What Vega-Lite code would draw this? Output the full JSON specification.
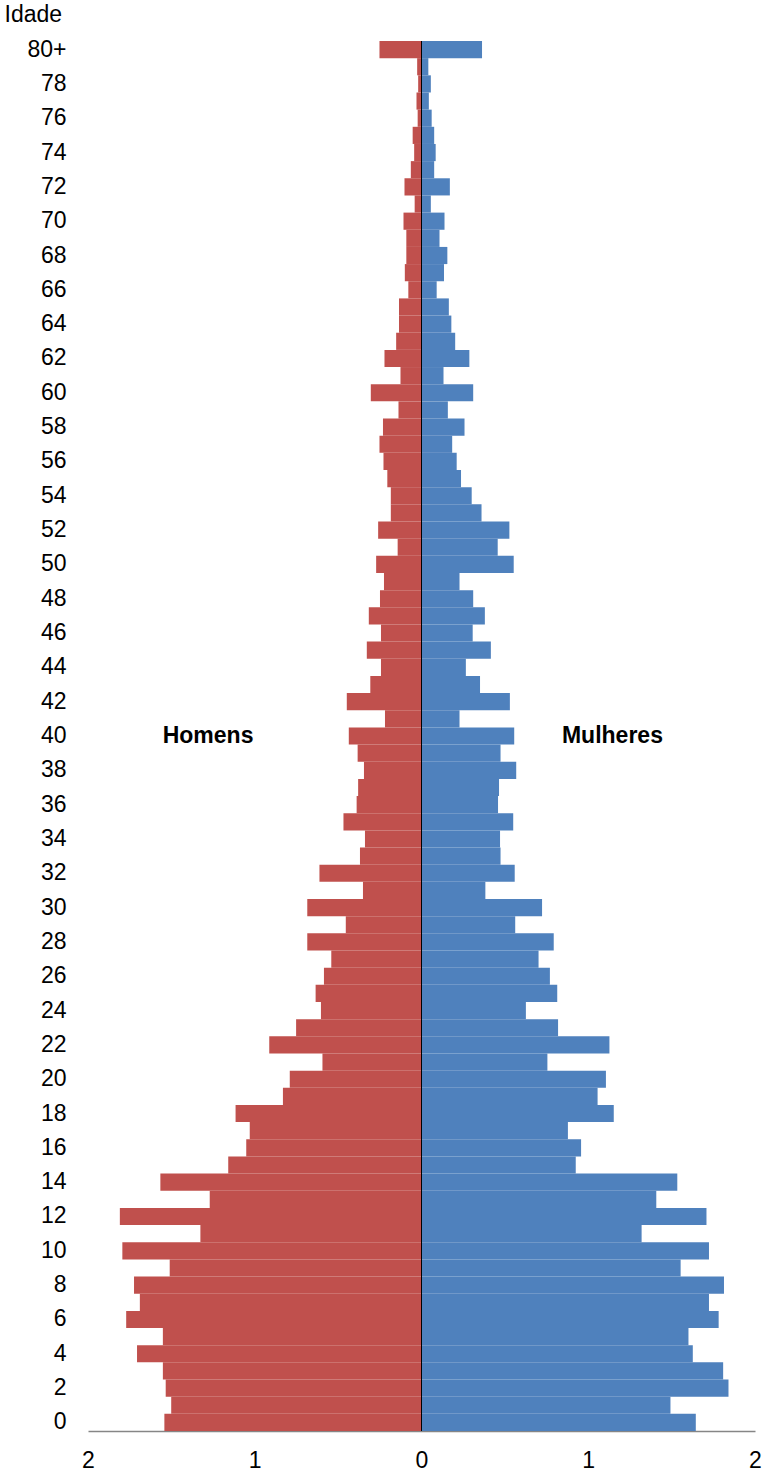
{
  "$schema": "https://vega.github.io/schema/vega-lite/v6.json",
  "width": 667,
  "height": 1390,
  "autosize": {"type": "none"},
  "padding": {"left": 88, "top": 41, "right": 9, "bottom": 45},
  "background": "white",
  "config": {
    "view": {"stroke": null},
    "font": "Liberation Sans",
    "axis": {"labelFont": "Liberation Sans", "titleFont": "Liberation Sans"}
  },
  "data": {
    "values": [
      {"idade": 0, "homens": -1.542, "mulheres": 1.645},
      {"idade": 1, "homens": -1.501, "mulheres": 1.493},
      {"idade": 2, "homens": -1.534, "mulheres": 1.841},
      {"idade": 3, "homens": -1.551, "mulheres": 1.809},
      {"idade": 4, "homens": -1.706, "mulheres": 1.627},
      {"idade": 5, "homens": -1.551, "mulheres": 1.601},
      {"idade": 6, "homens": -1.771, "mulheres": 1.782},
      {"idade": 7, "homens": -1.689, "mulheres": 1.724},
      {"idade": 8, "homens": -1.724, "mulheres": 1.814},
      {"idade": 9, "homens": -1.51, "mulheres": 1.554},
      {"idade": 10, "homens": -1.794, "mulheres": 1.724},
      {"idade": 11, "homens": -1.326, "mulheres": 1.32},
      {"idade": 12, "homens": -1.809, "mulheres": 1.709},
      {"idade": 13, "homens": -1.27, "mulheres": 1.408},
      {"idade": 14, "homens": -1.566, "mulheres": 1.534},
      {"idade": 15, "homens": -1.159, "mulheres": 0.925},
      {"idade": 16, "homens": -1.051, "mulheres": 0.957},
      {"idade": 17, "homens": -1.03, "mulheres": 0.878},
      {"idade": 18, "homens": -1.115, "mulheres": 1.153},
      {"idade": 19, "homens": -0.831, "mulheres": 1.056},
      {"idade": 20, "homens": -0.79, "mulheres": 1.106},
      {"idade": 21, "homens": -0.594, "mulheres": 0.755},
      {"idade": 22, "homens": -0.913, "mulheres": 1.127},
      {"idade": 23, "homens": -0.752, "mulheres": 0.819},
      {"idade": 24, "homens": -0.603, "mulheres": 0.626},
      {"idade": 25, "homens": -0.635, "mulheres": 0.814},
      {"idade": 26, "homens": -0.585, "mulheres": 0.77},
      {"idade": 27, "homens": -0.541, "mulheres": 0.702},
      {"idade": 28, "homens": -0.685, "mulheres": 0.793},
      {"idade": 29, "homens": -0.454, "mulheres": 0.562},
      {"idade": 30, "homens": -0.685, "mulheres": 0.723},
      {"idade": 31, "homens": -0.351, "mulheres": 0.383},
      {"idade": 32, "homens": -0.612, "mulheres": 0.559},
      {"idade": 33, "homens": -0.369, "mulheres": 0.474},
      {"idade": 34, "homens": -0.339, "mulheres": 0.471},
      {"idade": 35, "homens": -0.468, "mulheres": 0.55},
      {"idade": 36, "homens": -0.389, "mulheres": 0.459},
      {"idade": 37, "homens": -0.38, "mulheres": 0.465},
      {"idade": 38, "homens": -0.345, "mulheres": 0.568},
      {"idade": 39, "homens": -0.383, "mulheres": 0.474},
      {"idade": 40, "homens": -0.436, "mulheres": 0.556},
      {"idade": 41, "homens": -0.219, "mulheres": 0.228},
      {"idade": 42, "homens": -0.448, "mulheres": 0.53},
      {"idade": 43, "homens": -0.307, "mulheres": 0.351},
      {"idade": 44, "homens": -0.243, "mulheres": 0.266},
      {"idade": 45, "homens": -0.328, "mulheres": 0.416},
      {"idade": 46, "homens": -0.243, "mulheres": 0.307},
      {"idade": 47, "homens": -0.316, "mulheres": 0.38},
      {"idade": 48, "homens": -0.249, "mulheres": 0.31},
      {"idade": 49, "homens": -0.225, "mulheres": 0.228},
      {"idade": 50, "homens": -0.272, "mulheres": 0.553},
      {"idade": 51, "homens": -0.143, "mulheres": 0.457},
      {"idade": 52, "homens": -0.26, "mulheres": 0.527},
      {"idade": 53, "homens": -0.184, "mulheres": 0.36},
      {"idade": 54, "homens": -0.184, "mulheres": 0.301},
      {"idade": 55, "homens": -0.205, "mulheres": 0.237},
      {"idade": 56, "homens": -0.228, "mulheres": 0.211},
      {"idade": 57, "homens": -0.252, "mulheres": 0.184},
      {"idade": 58, "homens": -0.231, "mulheres": 0.258},
      {"idade": 59, "homens": -0.138, "mulheres": 0.158},
      {"idade": 60, "homens": -0.304, "mulheres": 0.31},
      {"idade": 61, "homens": -0.126, "mulheres": 0.132},
      {"idade": 62, "homens": -0.222, "mulheres": 0.287},
      {"idade": 63, "homens": -0.152, "mulheres": 0.202},
      {"idade": 64, "homens": -0.135, "mulheres": 0.179},
      {"idade": 65, "homens": -0.135, "mulheres": 0.164},
      {"idade": 66, "homens": -0.079, "mulheres": 0.091},
      {"idade": 67, "homens": -0.1, "mulheres": 0.135},
      {"idade": 68, "homens": -0.091, "mulheres": 0.155},
      {"idade": 69, "homens": -0.091, "mulheres": 0.108},
      {"idade": 70, "homens": -0.108, "mulheres": 0.138},
      {"idade": 71, "homens": -0.041, "mulheres": 0.056},
      {"idade": 72, "homens": -0.102, "mulheres": 0.17},
      {"idade": 73, "homens": -0.064, "mulheres": 0.076},
      {"idade": 74, "homens": -0.044, "mulheres": 0.085},
      {"idade": 75, "homens": -0.053, "mulheres": 0.076},
      {"idade": 76, "homens": -0.023, "mulheres": 0.061},
      {"idade": 77, "homens": -0.03, "mulheres": 0.044},
      {"idade": 78, "homens": -0.02, "mulheres": 0.056},
      {"idade": 79, "homens": -0.026, "mulheres": 0.041},
      {"idade": 80, "homens": -0.252, "mulheres": 0.363}
    ]
  },
  "resolve": {"scale": {"y": "shared", "x": "shared"}},
  "layer": [
    {
      "mark": {"type": "bar", "color": "#C0504D"},
      "encoding": {
        "y": {
          "field": "idade",
          "type": "ordinal",
          "sort": "descending",
          "scale": {"paddingInner": 0, "paddingOuter": 0},
          "axis": {
            "values": [0, 2, 4, 6, 8, 10, 12, 14, 16, 18, 20, 22, 24, 26, 28, 30, 32, 34, 36, 38, 40, 42, 44, 46, 48, 50, 52, 54, 56, 58, 60, 62, 64, 66, 68, 70, 72, 74, 76, 78, 80],
            "labelExpr": "datum.value >= 80 ? '80+' : datum.label",
            "labelOverlap": false,
            "labelBound": false,
            "domain": false,
            "ticks": false,
            "grid": false,
            "labelPadding": 22,
            "labelFontSize": 23,
            "labelColor": "#000000",
            "labelAngle": 0,
            "title": "Idade",
            "titleAngle": 0,
            "titleAlign": "left",
            "titleBaseline": "middle",
            "titleFontWeight": "normal",
            "titleFontSize": 23,
            "titleColor": "#000000",
            "titleX": -84,
            "titleY": -27
          }
        },
        "x": {
          "field": "homens",
          "type": "quantitative",
          "scale": {"domain": [-2, 2], "nice": false},
          "axis": {
            "values": [-2, -1, 0, 1, 2],
            "labelExpr": "abs(datum.value)",
            "labelOverlap": false,
            "labelFlush": false,
            "labelBound": false,
            "grid": false,
            "ticks": false,
            "domainColor": "#868686",
            "domainWidth": 1.5,
            "labelFontSize": 23,
            "labelColor": "#000000",
            "labelPadding": 18,
            "title": null
          }
        }
      }
    },
    {
      "mark": {"type": "bar", "color": "#4F81BD"},
      "encoding": {
        "y": {"field": "idade", "type": "ordinal", "sort": "descending"},
        "x": {"field": "mulheres", "type": "quantitative"}
      }
    },
    {
      "data": {"values": [{}]},
      "mark": {"type": "rule", "color": "#000000", "strokeWidth": 1},
      "encoding": {"x": {"datum": 0, "type": "quantitative"}}
    },
    {
      "data": {"values": [{"rotulo": "Homens"}]},
      "mark": {"type": "text", "fontWeight": "bold", "fontSize": 23, "color": "#000000"},
      "encoding": {
        "x": {"datum": -1.28, "type": "quantitative"},
        "y": {"datum": 40, "type": "ordinal"},
        "text": {"field": "rotulo"}
      }
    },
    {
      "data": {"values": [{"rotulo": "Mulheres"}]},
      "mark": {"type": "text", "fontWeight": "bold", "fontSize": 23, "color": "#000000"},
      "encoding": {
        "x": {"datum": 1.145, "type": "quantitative"},
        "y": {"datum": 40, "type": "ordinal"},
        "text": {"field": "rotulo"}
      }
    }
  ]
}
